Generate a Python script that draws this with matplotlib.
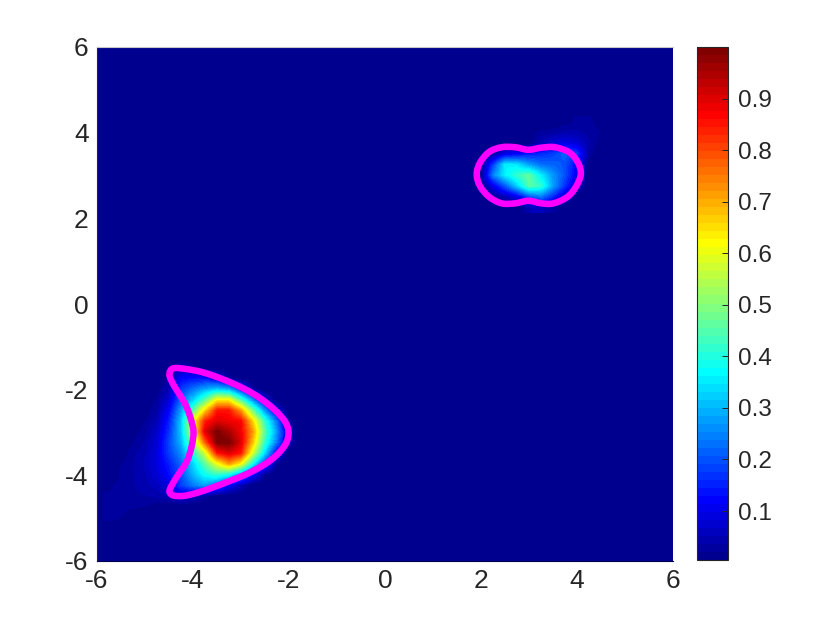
import numpy as np
import matplotlib
matplotlib.use("Agg")
import matplotlib.pyplot as plt
from matplotlib.colors import ListedColormap, Normalize
from matplotlib.cm import ScalarMappable
from matplotlib.path import Path
from matplotlib.patches import PathPatch

plt.rcParams['font.family'] = ['Liberation Sans', 'DejaVu Sans']
plt.rcParams['axes.unicode_minus'] = False

x_ticks = [-6, -4, -2, 0, 2, 4, 6]
y_ticks = [-6, -4, -2, 0, 2, 4, 6]
cbar_ticks = [0.1, 0.2, 0.3, 0.4, 0.5, 0.6, 0.7, 0.8, 0.9]

# lower-left density: columns x=-5.75..-1.75, rows y=-1.25..-5.25 (step 0.25)
left_x = [-5.75, -1.75]
left_y = [-1.25, -5.25]
left_density = [
    [0, 0, 0, 0, 0, 0, 0, 0, 0, 0, 0, 0, 0, 0, 0, 0, 0],
    [0, 0, 0, 0, 0, 0, .05, .03, 0, 0, 0, 0, 0, 0, 0, 0, 0],
    [0, 0, 0, 0, 0, .03, .12, .13, .13, .10, .03, 0, 0, 0, 0, 0, 0],
    [0, 0, 0, 0, .01, .05, .17, .23, .28, .31, .28, .15, .03, 0, 0, 0, 0],
    [0, 0, 0, 0, .025, .08, .22, .32, .45, .62, .62, .44, .25, .08, 0, 0, 0],
    [0, 0, 0, .01, .035, .12, .28, .45, .66, .85, .85, .72, .48, .27, .09, 0, 0],
    [0, 0, 0, .02, .05, .15, .32, .60, .84, .90, .88, .87, .66, .42, .23, .03, 0],
    [0, 0, .01, .03, .07, .17, .32, .58, .90, 1.0, .95, .88, .72, .46, .27, .05, 0],
    [0, 0, .02, .04, .08, .19, .30, .50, .78, 1.0, 1.0, .90, .68, .42, .24, .05, 0],
    [0, .01, .03, .05, .09, .18, .26, .40, .58, .85, .90, .85, .58, .34, .11, 0, 0],
    [0, .02, .035, .055, .09, .15, .22, .33, .46, .60, .72, .62, .38, .18, .02, 0, 0],
    [0, .025, .035, .05, .08, .13, .20, .30, .38, .42, .38, .27, .13, .02, 0, 0, 0],
    [.015, .03, .035, .045, .06, .09, .18, .24, .28, .22, .12, .05, 0, 0, 0, 0, 0],
    [.025, .03, .03, .035, .04, .05, .08, .06, .03, 0, 0, 0, 0, 0, 0, 0, 0],
    [.03, .03, .025, .02, .01, 0, 0, 0, 0, 0, 0, 0, 0, 0, 0, 0, 0],
    [.03, .02, 0, 0, 0, 0, 0, 0, 0, 0, 0, 0, 0, 0, 0, 0, 0],
    [0, 0, 0, 0, 0, 0, 0, 0, 0, 0, 0, 0, 0, 0, 0, 0, 0],
]

# upper-right density: columns x=1.75..4.75, rows y=4.25..2.25 (step 0.25)
right_x = [1.75, 4.75]
right_y = [4.25, 2.25]
right_density = [
    [0, 0, 0, 0, 0, 0, 0, 0, .01, .025, .025, .01, 0],
    [0, 0, 0, 0, 0, .01, .025, .03, .04, .04, .03, .02, 0],
    [0, 0, 0, 0, 0, .01, .05, .08, .10, .08, .04, .01, 0],
    [0, 0, .03, .10, .12, .14, .16, .18, .22, .18, .03, 0, 0],
    [0, .01, .18, .36, .35, .28, .23, .22, .20, .12, .01, 0, 0],
    [0, .02, .25, .36, .42, .47, .36, .27, .20, .10, 0, 0, 0],
    [0, .01, .10, .21, .33, .46, .42, .28, .17, .06, 0, 0, 0],
    [0, 0, .02, .05, .10, .20, .24, .16, .07, 0, 0, 0, 0],
    [0, 0, 0, 0, 0, .05, .06, .03, 0, 0, 0, 0, 0],
]

left_outline_x = [-4.49, -4.41, -4.13, -3.78, -3.37, -2.95, -2.60, -2.29, -2.08, -2.01,
                  -2.06, -2.26, -2.53, -2.88, -3.23, -3.58, -3.92, -4.20, -4.41, -4.49,
                  -4.44, -4.31, -4.13, -4.03, -3.99, -4.06, -4.17, -4.34, -4.46]
left_outline_y = [-1.62, -1.50, -1.52, -1.60, -1.76, -1.97, -2.20, -2.48, -2.75, -2.98,
                  -3.25, -3.53, -3.76, -3.97, -4.13, -4.28, -4.41, -4.48, -4.47, -4.38,
                  -4.23, -3.99, -3.68, -3.33, -2.98, -2.63, -2.32, -2.01, -1.77]

right_outline_x = [1.91, 1.98, 2.17, 2.43, 2.71, 2.99, 3.26, 3.54, 3.84, 4.02, 4.08,
                   3.98, 3.80, 3.51, 3.26, 2.99, 2.71, 2.43, 2.17, 1.98]
right_outline_y = [3.03, 3.30, 3.55, 3.66, 3.66, 3.60, 3.65, 3.66, 3.54, 3.30, 3.03,
                   2.74, 2.50, 2.35, 2.35, 2.41, 2.35, 2.35, 2.50, 2.75]


def matlab_jet(n=64):
    t = np.arange(1, n + 1) / n
    return ListedColormap(np.clip(np.column_stack([1.5 - np.abs(4 * t - 3),
                                                   1.5 - np.abs(4 * t - 2),
                                                   1.5 - np.abs(4 * t - 1)]), 0, 1))


def closed_curve(xs, ys):
    p = np.column_stack([xs, ys])
    n = len(p)
    verts = [p[0]]
    codes = [Path.MOVETO]
    for i in range(n):
        p0, p1, p2, p3 = p[i - 1], p[i], p[(i + 1) % n], p[(i + 2) % n]
        verts += [p1 + (p2 - p0) / 6, p2 - (p3 - p1) / 6, p2]
        codes += [Path.CURVE4] * 3
    return Path(verts, codes)


cmap = matlab_jet()
norm = Normalize(0.005, 1.0)
W, H = 840, 630
fig = plt.figure(figsize=(8.4, 6.3), dpi=100, facecolor='white')
ax = fig.add_axes([97 / W, 1 - 561 / H, 576 / W, 514 / H])
ax.set_facecolor(cmap(0))

half = 0.125
for data, xr, yr in [(left_density, left_x, left_y), (right_density, right_x, right_y)]:
    ax.imshow(np.array(data, float), cmap=cmap, norm=norm, interpolation='bilinear',
              aspect='auto', origin='upper',
              extent=[xr[0] - half, xr[1] + half, yr[1] - half, yr[0] + half])

for xs, ys in [(left_outline_x, left_outline_y), (right_outline_x, right_outline_y)]:
    ax.add_patch(PathPatch(closed_curve(xs, ys), fill=False, edgecolor='#ff00ff',
                           lw=4.7, joinstyle='round'))

ax.set_xlim(-6, 6)
ax.set_ylim(-6, 6)
ax.set_xticks(x_ticks)
ax.set_yticks(y_ticks)
ax.tick_params(length=0, labelsize=19, labelcolor='#262626', pad=6)
ax.spines['right'].set_visible(False)
ax.spines['top'].set_color('#c8c8c8')
ax.spines['left'].set_color('#262626')
ax.spines['bottom'].set_color('#000050')
for s in ax.spines.values():
    s.set_linewidth(0.8)

cax = fig.add_axes([697 / W, 1 - 560 / H, 31 / W, 513 / H])
cb = fig.colorbar(ScalarMappable(norm=norm, cmap=cmap), cax=cax, ticks=cbar_ticks)
cb.ax.set_yticklabels([f'{t:g}' for t in cbar_ticks])
cb.ax.tick_params(direction='in', length=4, width=0.7, color='#262626',
                  labelsize=17.5, labelcolor='#262626', pad=7)
cb.outline.set_edgecolor('#262626')
cb.outline.set_linewidth(0.8)

fig.savefig('out.png', dpi=100)
